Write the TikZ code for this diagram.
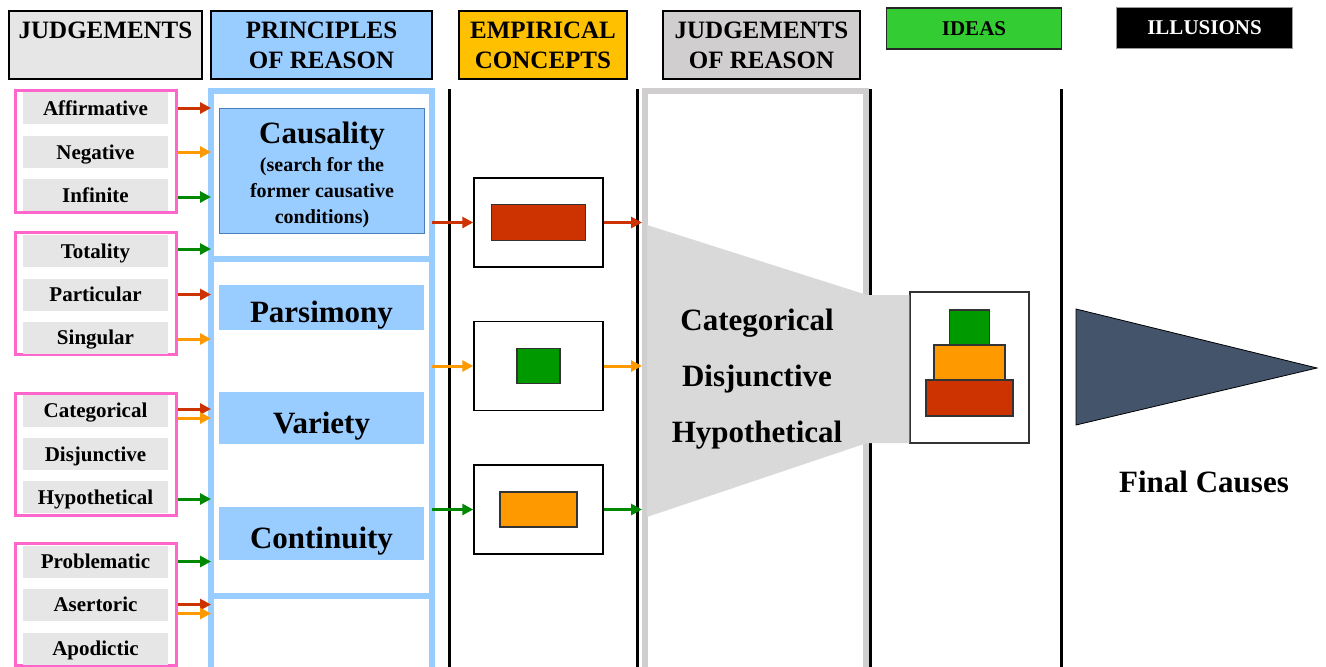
\documentclass[tikz,border=0pt]{standalone}
\usepackage{fontspec}
\setmainfont{Liberation Serif}
\usetikzlibrary{arrows.meta,positioning,calc}
\definecolor{pinkline}{RGB}{255,102,204}
\definecolor{itemgray}{RGB}{230,230,230}
\definecolor{lblue}{RGB}{153,204,255}
\definecolor{cborder}{RGB}{74,126,187}
\definecolor{empyellow}{RGB}{255,192,0}
\definecolor{reasongray}{RGB}{208,206,206}
\definecolor{ideagreen}{RGB}{51,204,51}
\definecolor{cred}{RGB}{204,51,0}
\definecolor{corange}{RGB}{255,153,0}
\definecolor{cgreen}{RGB}{0,153,0}
\definecolor{agreen}{RGB}{0,136,0}
\definecolor{funnel}{RGB}{217,217,217}
\definecolor{slate}{RGB}{68,84,106}

\begin{document}
\begin{tikzpicture}[x=1pt,y=-1pt,>=Latex,
  hd/.style={draw=black,line width=2.5pt,align=center,minimum height=68pt,inner sep=0pt,font=\fontsize{25}{30}\selectfont\bfseries},
  smallhd/.style={line width=1.5pt,minimum height=41pt,inner sep=0pt,font=\fontsize{21}{25}\selectfont\bfseries},
  item/.style={fill=itemgray,minimum width=145pt,minimum height=32pt,inner sep=0pt,text height=14pt,text depth=0pt,font=\fontsize{21}{25}\selectfont\bfseries},
  grp/.style={draw=pinkline,line width=3pt,minimum width=161pt,minimum height=122pt,inner sep=0pt},
  panel/.style={draw=lblue,line width=6pt,minimum width=221pt,inner sep=0pt,outer sep=0pt},
  pbox/.style={fill=lblue,minimum width=205pt,inner sep=0pt,text height=30.5pt,text depth=0pt,font=\fontsize{31}{36}\selectfont\bfseries},
  ebox/.style={draw=black,line width=1.5pt,fill=white,minimum width=129pt,minimum height=89pt,inner sep=0pt},
  blk/.style={draw=black!80,line width=1.2pt,inner sep=0pt},
  arr/.style={-{Triangle[length=11pt,width=11pt]},line width=3pt},
  big/.style={text height=20.5pt,text depth=0pt,font=\fontsize{31}{36}\selectfont\bfseries}
]
\useasboundingbox (0,0) rectangle (1326,667);

% column heads
\node[hd,fill=itemgray,minimum width=193pt] (hjud) at (105.5,45) {JUDGEMENTS\\\mbox{}};
\node[hd,fill=lblue,minimum width=221pt] (hprin) at (321.5,45) {PRINCIPLES\\OF REASON};
\node[hd,fill=empyellow,minimum width=168pt] (hemp) at (543,45) {EMPIRICAL\\CONCEPTS};
\node[hd,fill=reasongray,minimum width=197pt] (hjr) at (761.5,45) {JUDGEMENTS\\OF REASON};
\node[smallhd,draw=black!85,fill=ideagreen,minimum width=175pt] (hideas) at (974,28.5) {IDEAS};
\node[smallhd,draw=black!40,line width=1pt,fill=black,text=white,minimum width=176pt] (hill) at (1204.5,28) {ILLUSIONS};

% separators
\foreach \x in {449.5,637.5,870.5,1061}
  \draw[line width=3pt] (\x,89) -- (\x,667);

% judgements
\foreach \g/\y in {g1/151,g2/293.5,g3/454,g4/604.5}
  \node[grp] (\g) at (96,\y) {};
\foreach \n/\t/\y in {aff/Affirmative/108,neg/Negative/152,inf/Infinite/195,tot/Totality/251,par/Particular/294.5,sin/Singular/337.5,cat/Categorical/410.5,dis/Disjunctive/454,hyp/Hypothetical/497,pro/Problematic/561.5,ase/Asertoric/604.5,apo/Apodictic/648.5}
  \node[item] (\n) at (95.5,\y) {\t};

% principles of reason
\node[panel,minimum height=168.5pt] (pa) at (321.5,174.75) {};
\node[panel,minimum height=336.5pt,below=0pt of pa] (pb) {};
\node[panel,minimum height=74.5pt,below=0pt of pb] (pc) {};
\node[pbox,draw=cborder,line width=1pt,minimum height=125pt] (caus) at (322,170.5) {};
\node[align=center,font=\fontsize{20}{26}\selectfont\bfseries] (caustxt) at ([yshift=-4.5pt]caus.center)
  {{\fontsize{31}{36}\selectfont Causality}\\[2pt](search for the\\former causative\\conditions)};
\node[pbox,minimum height=45pt] (pars) at (321.5,307.5) {Parsimony};
\node[pbox,minimum height=52pt] (vari) at (321.5,418) {Variety};
\node[pbox,minimum height=53pt] (cont) at (321.5,533.5) {Continuity};

\foreach \n/\c/\dy in {aff/cred/0,neg/corange/0,inf/agreen/2,tot/agreen/-2,par/cred/0,sin/corange/1.5,cat/cred/-1.5,cat/corange/7.5,hyp/agreen/2,pro/agreen/0,ase/cred/0,ase/corange/9}
  \draw[arr,\c] ($(\n.east -| g1.east)+(0,\dy)$) -- ($(\n.east -| pa.west)+(0,\dy)$);

% judgements of reason
\node[draw=reasongray,line width=6pt,minimum width=220.5pt,minimum height=579.5pt,inner sep=0pt] (jr) at (755.25,380.25) {};

% empirical concepts
\node[ebox] (ea) at (538.5,222.5) {};
\node[ebox,below=53pt of ea] (eb) {};
\node[ebox,below=53pt of eb] (ec) {};
\node[blk,fill=cred,minimum width=94pt,minimum height=36pt] (ra) at (ea) {};
\node[blk,fill=cgreen,minimum width=43pt,minimum height=35pt] (rb) at (eb) {};
\node[blk,fill=corange,minimum width=77pt,minimum height=35pt] (rc) at (ec) {};
\foreach \e/\c in {ea/cred,eb/corange,ec/agreen}{
  \draw[arr,\c] (\e.west -| pa.east) -- (\e.west);
  \draw[arr,\c] (\e.east) -- (\e.east -| jr.west);
}

% ideas
\node[draw=black!80,line width=1.2pt,fill=white,minimum width=119pt,minimum height=151pt,inner sep=0pt] (idea) at (969.5,367.5) {};
\fill[funnel] (647,225) -- (867,295) -- (idea.west |- 0,295) -- (idea.west |- 0,443) -- (867,443) -- (647,517) -- cycle;
\foreach \t [count=\i] in {Categorical,Disjunctive,Hypothetical}
  \node[big] (jr\i) at (757,264+56*\i) {\t};
\node[blk,fill=cred,minimum width=87pt,minimum height=36pt] (pyr) at (969.5,398) {};
\node[blk,fill=corange,minimum width=71pt,minimum height=35pt,above=-1.2pt of pyr] (pyo) {};
\node[blk,fill=cgreen,minimum width=40pt,minimum height=35pt,above=-1.2pt of pyo] (pyg) {};

% illusions
\filldraw[fill=slate,draw=black,line width=0.8pt] (1076,309) -- (1317,368) -- (1076,425) -- cycle;
\node[big] (fc) at (1204,482) {Final Causes};
\end{tikzpicture}
\end{document}
